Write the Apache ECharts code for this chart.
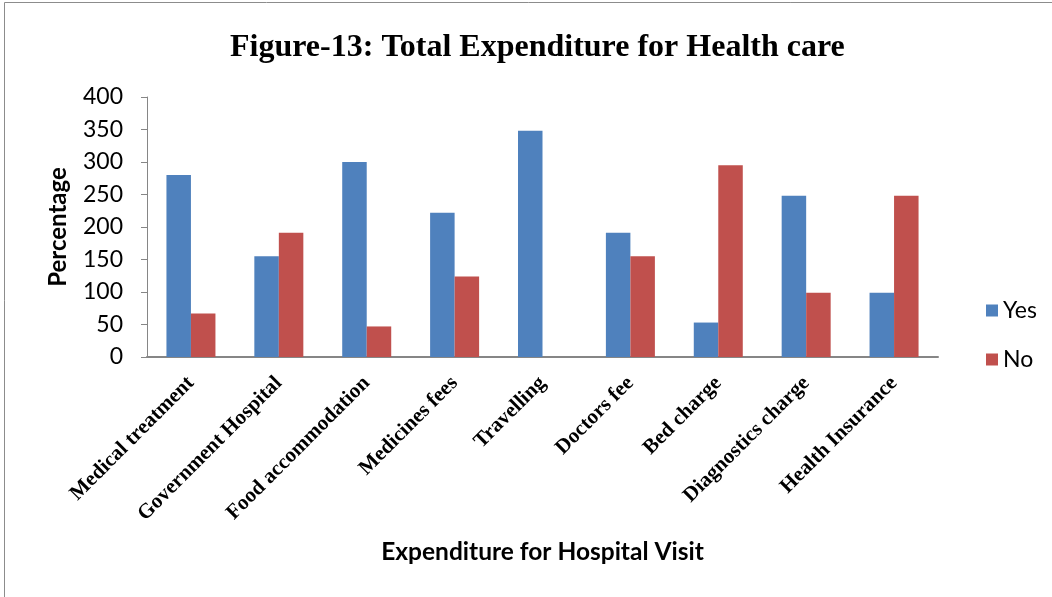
<!DOCTYPE html>
<html>
<head>
<meta charset="utf-8">
<script src="https://cdn.jsdelivr.net/npm/echarts@6/dist/echarts.min.js"></script>
<style>
  html, body { margin: 0; padding: 0; background: #fff; }
  #chart { width: 1052px; height: 597px; }
</style>
</head>
<body>
<div id="chart"></div>
<script>
// Expenditure items and the share of respondents answering Yes / No
const categories = [
  'Medical treatment', 'Government Hospital', 'Food accommodation',
  'Medicines fees', 'Travelling', 'Doctors fee', 'Bed charge',
  'Diagnostics charge', 'Health Insurance'
];
const yesValues = [280, 155, 300, 222, 348, 191, 53, 248, 99];
const noValues  = [67, 191, 47, 124, 0, 155, 295, 99, 248];
const seriesNames = ['Yes', 'No'];
const yTicks = { min: 0, max: 400, interval: 50 };

const chart = echarts.init(document.getElementById('chart'), null, { renderer: 'canvas' });

chart.setOption({
  backgroundColor: '#ffffff',
  animation: false,
  graphic: [{
    type: 'rect',
    shape: { x: 4.5, y: 2.5, width: 1200, height: 800 },
    style: { fill: 'none', stroke: '#8c8c8c', lineWidth: 1 },
    silent: true
  }],
  title: {
    text: 'Figure-13: Total Expenditure for Health care',
    left: 225,
    top: 27,
    textStyle: {
      fontFamily: '"Liberation Serif", "Times New Roman", serif',
      fontWeight: 'bold',
      fontSize: 32,
      color: '#000'
    }
  },
  legend: {
    orient: 'vertical',
    left: 981,
    top: 294,
    itemWidth: 12,
    itemHeight: 12,
    itemGap: 26,
    icon: 'rect',
    data: seriesNames,
    textStyle: { fontFamily: 'Lato, sans-serif', fontSize: 23, color: '#000', lineHeight: 22 }
  },
  grid: { left: 147, right: 114, top: 97, bottom: 240, containLabel: false },
  xAxis: {
    type: 'category',
    data: categories,
    name: 'Expenditure for Hospital Visit',
    nameLocation: 'middle',
    nameGap: 183,
    nameTextStyle: { fontFamily: 'Lato, sans-serif', fontWeight: 'bold', fontSize: 24.5, color: '#000' },
    axisLine: { lineStyle: { color: '#868686', width: 2 } },
    axisTick: { show: false },
    axisLabel: {
      interval: 0,
      rotate: 45,
      margin: 23,
      fontFamily: '"Liberation Serif", "Times New Roman", serif',
      fontWeight: 'bold',
      fontSize: 21,
      color: '#000'
    }
  },
  yAxis: {
    type: 'value',
    min: yTicks.min,
    max: yTicks.max,
    interval: yTicks.interval,
    name: 'Percentage',
    nameLocation: 'middle',
    nameGap: 77,
    nameTextStyle: { fontFamily: 'Lato, sans-serif', fontWeight: 'bold', fontSize: 24, color: '#000' },
    axisLine: { show: true, lineStyle: { color: '#868686', width: 1 } },
    axisTick: { show: true, length: 6, lineStyle: { color: '#868686' } },
    splitLine: { show: false },
    axisLabel: { margin: 24, fontFamily: 'Lato, sans-serif', fontSize: 23, color: '#000' }
  },
  series: [
    {
      name: seriesNames[0],
      type: 'bar',
      data: yesValues,
      barWidth: 24.5,
      barGap: '0%',
      itemStyle: { color: '#4F81BD' }
    },
    {
      name: seriesNames[1],
      type: 'bar',
      data: noValues,
      barWidth: 24.5,
      barGap: '0%',
      itemStyle: { color: '#C0504D' }
    }
  ]
});
</script>
</body>
</html>
